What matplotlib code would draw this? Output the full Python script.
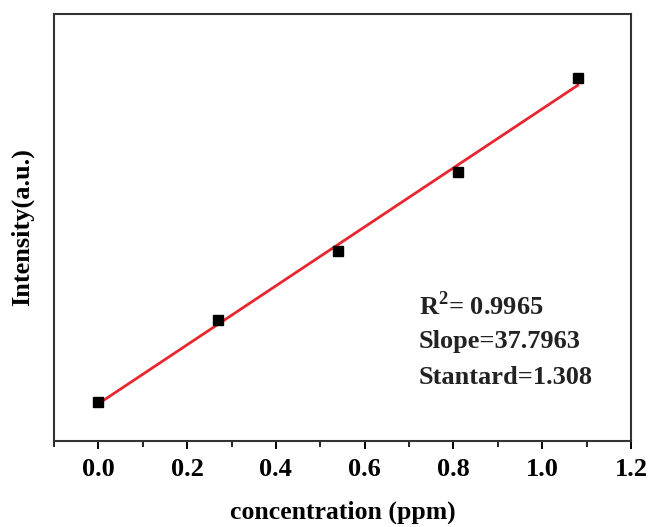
import numpy as np
import matplotlib
matplotlib.use('Agg')
import matplotlib.pyplot as plt
from matplotlib.ticker import MultipleLocator

# data (intensity, arbitrary units)
conc = [0.0, 0.27, 0.54, 0.81, 1.08]
intensity = [10.0, 20.4, 29.1, 39.1, 50.9]
stats = ['R$^{2}$= 0.9965', 'Slope=37.7963', 'Stantard=1.308']

plt.rcParams['font.family'] = 'Liberation Serif'
plt.rcParams['font.weight'] = 'bold'
plt.rcParams['mathtext.fontset'] = 'custom'
plt.rcParams['mathtext.rm'] = 'Liberation Serif:bold'

fig = plt.figure(figsize=(6.51, 5.27), dpi=100)
ax = fig.add_axes([54/651, 1-441/527, (631-54)/651, (441-14)/527])

# linear fit
k, b = np.polyfit(conc, intensity, 1)
xf = np.array([conc[0], conc[-1]])
ax.plot(xf, k*xf + b, color='#e8262f', lw=2, zorder=2)
ax.plot(conc, intensity, 's', color='black', ms=7, zorder=3)

ax.set_xlim(-0.1, 1.2)
ax.set_ylim(5.1, 59.0)
ax.xaxis.set_major_locator(MultipleLocator(0.2))
ax.xaxis.set_minor_locator(MultipleLocator(0.1))
ax.tick_params(axis='x', which='major', direction='out', length=6, width=1.4, labelsize=19, pad=6)
ax.tick_params(axis='x', which='minor', direction='out', length=4, width=1.2)
ax.set_xticks(np.arange(0, 1.21, 0.2))
ax.set_xticklabels([f'{v:.1f}' for v in np.arange(0, 1.21, 0.2)])
ax.set_xlim(-0.1, 1.2)
ax.set_yticks([])
for s in ax.spines.values():
    s.set_linewidth(1.5)
    s.set_color('#333333')

ax.set_xlabel('concentration (ppm)', fontsize=18.5, fontweight='bold', labelpad=14)
ax.set_ylabel('Intensity(a.u.)', fontsize=19, fontweight='bold', labelpad=14)

for i, t in enumerate(stats):
    ax.text(0.632, 0.318 - i*0.085, t, transform=ax.transAxes, fontsize=19,
            fontweight='bold', va='center', ha='left', color='#222222')

plt.savefig('out.png', dpi=100)
plt.close()
